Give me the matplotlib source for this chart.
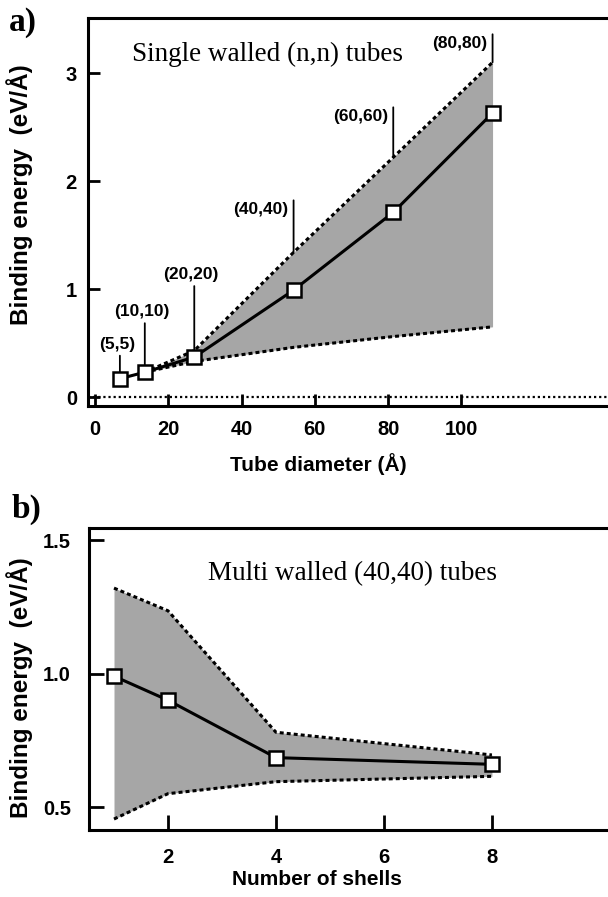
import matplotlib
matplotlib.use("Agg")
import matplotlib.pyplot as plt

# Panel a: single walled (n,n) tubes
labels_a = ["(5,5)", "(10,10)", "(20,20)", "(40,40)", "(60,60)", "(80,80)"]
diameter = [6.8, 13.6, 27.1, 54.2, 81.4, 108.5]
energy_a = [0.17, 0.23, 0.37, 0.99, 1.71, 2.63]
band_x_a = [13.6, 27.1, 54.2, 81.4, 108.5]
upper_a = [0.23, 0.43, 1.34, 2.22, 3.10]
lower_a = [0.23, 0.33, 0.46, 0.56, 0.65]

# Panel b: multi walled (40,40) tubes
shells = [1, 2, 4, 8]
energy_b = [0.99, 0.90, 0.685, 0.66]
upper_b = [1.32, 1.235, 0.78, 0.695]
lower_b = [0.455, 0.55, 0.595, 0.615]

GRAY = "#a6a6a6"
SANS = "Liberation Sans"
SERIF = "Liberation Serif"
PT = 0.72  # points per pixel at 100 dpi

W, H = 608, 897
fig = plt.figure(figsize=(W / 100, H / 100), dpi=100)


def px_axes(left, top, right, bottom):
    return fig.add_axes([left / W, 1 - bottom / H, (right - left) / W, (bottom - top) / H])


def style_axes(ax, ypad, xpad):
    for s in ["left", "bottom", "top"]:
        ax.spines[s].set_linewidth(2.2)
    ax.spines["right"].set_visible(False)
    ax.tick_params(direction="in", length=8.5, width=2.0, top=False, right=False)
    ax.tick_params(axis="y", pad=ypad)
    ax.tick_params(axis="x", pad=xpad)
    for t in ax.get_xticklabels() + ax.get_yticklabels():
        t.set_fontfamily(SANS)
        t.set_fontweight("bold")
        t.set_fontsize(14.5)


def draw_band(ax, x, up, lo, xs, ys):
    ax.fill_between(x, lo, up, color=GRAY, lw=0, zorder=1)
    ax.plot(x, up, color="black", lw=2.2, ls=(0, (1.3, 1.0)), zorder=2)
    ax.plot(x, lo, color="black", lw=2.2, ls=(0, (1.3, 1.0)), zorder=2)
    ax.plot(xs, ys, color="black", lw=2.2, marker="s", ms=10, mfc="white",
            mec="black", mew=1.8, zorder=4)


# ---------------- panel a ----------------
ax1 = px_axes(88, 18, 608, 406)
ax1.set_xlim(-1.9, 140)
ax1.set_ylim(-0.083, 3.51)
ax1.axhline(0, color="black", lw=1.6, ls=(0, (1, 1.3)), zorder=1)
draw_band(ax1, band_x_a, upper_a, lower_a, diameter, energy_a)
ax1.set_xticks([0, 20, 40, 60, 80, 100])
ax1.set_yticks([0, 1, 2, 3])
style_axes(ax1, ypad=8, xpad=10)

# tube labels with leader lines (first three anchor at point, rest on upper band)
anchor_a = energy_a[:3] + upper_a[2:]
gap_a = [6, 6, 6, 0, 0, 0]
line_len = [17, 43, 65, 52, 50, 28]
for i, lab in enumerate(labels_a):
    x, y = diameter[i], anchor_a[i]
    g = gap_a[i]
    top = g + line_len[i]
    ax1.annotate("", xy=(x, y), xytext=(0, top * PT),
                 textcoords="offset points",
                 arrowprops=dict(arrowstyle="-", lw=1.3, color="black",
                                 shrinkA=0, shrinkB=g * PT))
    if i < 3:
        ax1.annotate(lab, xy=(x, y), xytext=(-3 * PT, (top + 4) * PT),
                     textcoords="offset points", ha="center", va="bottom",
                     fontfamily=SANS, fontweight="bold", fontsize=12.5, zorder=5)
    else:
        ax1.annotate(lab, xy=(x, y), xytext=(-5 * PT, (top - 9) * PT),
                     textcoords="offset points", ha="right", va="center",
                     fontfamily=SANS, fontweight="bold", fontsize=12.5, zorder=5)

ax1.text(0.345, 0.905, "Single walled (n,n) tubes", transform=ax1.transAxes,
         ha="center", va="center", fontfamily=SERIF, fontsize=19.5)
ax1.set_xlabel("Tube diameter (Å)", fontfamily=SANS, fontsize=15, fontweight="bold")
ax1.set_ylabel("Binding energy  (eV/Å)", fontfamily=SANS, fontsize=17.5, fontweight="bold")
ax1.xaxis.set_label_coords(0.442, -0.12)
ax1.yaxis.set_label_coords(-0.106, 0.544)

# ---------------- panel b ----------------
ax2 = px_axes(89, 528, 608, 830)
ax2.set_xlim(0.537, 10.15)
ax2.set_ylim(0.414, 1.545)
draw_band(ax2, shells, upper_b, lower_b, shells, energy_b)
ax2.set_xticks([2, 4, 6, 8])
ax2.set_yticks([0.5, 1.0, 1.5])
ax2.set_yticklabels(["0.5", "1.0", "1.5"])
style_axes(ax2, ypad=13, xpad=13)
ax2.tick_params(length=11)

ax2.text(0.507, 0.85, "Multi walled (40,40) tubes", transform=ax2.transAxes,
         ha="center", va="center", fontfamily=SERIF, fontsize=19.5)
ax2.set_xlabel("Number of shells", fontfamily=SANS, fontsize=15, fontweight="bold")
ax2.set_ylabel("Binding energy  (eV/Å)", fontfamily=SANS, fontsize=17.5, fontweight="bold")
ax2.xaxis.set_label_coords(0.44, -0.134)
ax2.yaxis.set_label_coords(-0.108, 0.47)

fig.text(23 / W, 1 - 22 / H, "a)", ha="center", va="center", fontfamily=SERIF,
         fontweight="bold", fontsize=24)
fig.text(27 / W, 1 - 509 / H, "b)", ha="center", va="center", fontfamily=SERIF,
         fontweight="bold", fontsize=24)

fig.savefig("out.png", dpi=100)
